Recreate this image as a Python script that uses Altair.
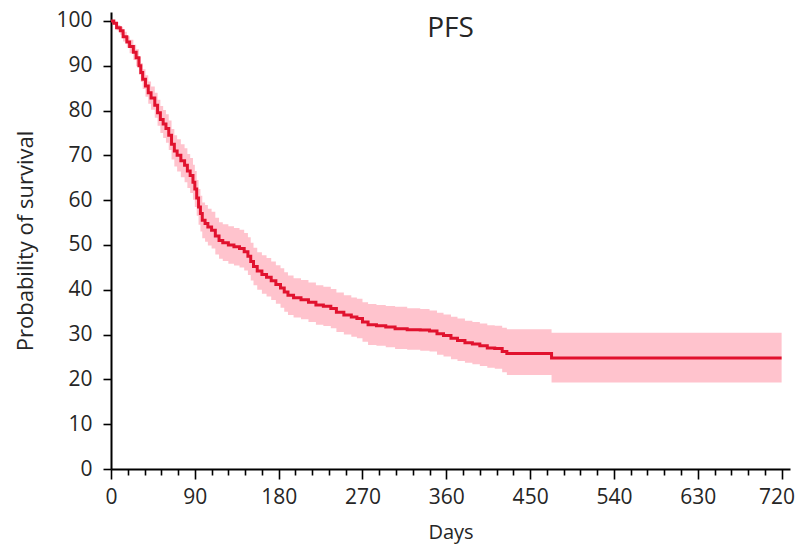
import altair as alt
import pandas as pd

# Kaplan-Meier step points
days = [0, 3, 6, 10, 13, 17, 20, 24, 27, 30, 32, 34, 37, 40, 43, 47, 50, 53, 56, 59,
        62, 65, 68, 71, 75, 79, 82, 85, 88, 90, 92, 94, 96, 98, 101, 104, 108, 112, 116, 120,
        126, 132, 138, 143, 147, 150, 153, 157, 162, 167, 172, 177, 182, 186, 190, 196, 204, 212, 220, 228,
        236, 242, 250, 258, 264, 270, 276, 285, 295, 305, 318, 332, 342, 350, 357, 365, 372, 380, 388, 396,
        404, 412, 420, 425, 473, 720]
surv = [100, 99.5, 98.5, 97.8, 96.5, 95.3, 94.3, 93.0, 91.8, 90.0, 88.5, 87.0, 85.5, 84.0, 82.8, 81.2, 79.5, 78.0, 77.0, 76.0,
        74.5, 72.5, 71.0, 70.0, 68.8, 67.8, 66.5, 65.5, 64.0, 62.5, 60.5, 58.5, 57.0, 55.5, 54.8, 54.0, 53.3, 52.0, 51.0, 50.5,
        50.0, 49.6, 49.2, 48.5, 47.5, 46.3, 45.2, 44.2, 43.4, 42.8, 42.0, 41.2, 40.4, 39.5, 38.8, 38.2, 37.8, 37.2, 36.6, 36.3,
        35.8, 35.0, 34.4, 33.9, 33.6, 32.8, 32.2, 32.0, 31.7, 31.3, 31.1, 31.0, 30.8, 30.2, 29.8, 29.2, 28.7, 28.2, 27.9, 27.5,
        27.0, 26.9, 26.2, 25.8, 24.8, 24.8]
lower = [100, 99.2, 97.9, 96.9, 95.4, 94.0, 92.8, 91.3, 89.9, 88.0, 86.4, 84.8, 83.1, 81.5, 80.2, 78.4, 76.6, 75.0, 73.9, 72.8,
         71.2, 69.1, 67.5, 66.4, 65.1, 64.0, 62.7, 61.6, 60.1, 58.5, 56.5, 54.5, 53.0, 51.5, 50.7, 49.9, 49.2, 47.9, 46.9, 46.4,
         45.8, 45.4, 45.0, 44.3, 43.3, 42.1, 41.0, 40.0, 39.1, 38.5, 37.7, 36.9, 36.0, 35.1, 34.4, 33.8, 33.4, 32.8, 32.2, 31.9,
         31.4, 30.6, 30.0, 29.5, 29.2, 28.4, 27.7, 27.5, 27.2, 26.8, 26.6, 26.4, 26.2, 25.5, 25.1, 24.5, 24.1, 23.7, 23.4, 23.0,
         22.6, 22.4, 21.6, 21.0, 19.3, 19.3]
upper = [100, 99.8, 99.1, 98.7, 97.6, 96.6, 95.8, 94.7, 93.7, 92.0, 90.6, 89.2, 87.9, 86.5, 85.4, 84.0, 82.4, 81.0, 80.1, 79.2,
         77.8, 75.9, 74.5, 73.6, 72.5, 71.6, 70.3, 69.4, 67.9, 66.5, 64.5, 62.5, 61.0, 59.5, 58.9, 58.1, 57.4, 56.1, 55.1, 54.6,
         54.2, 53.8, 53.4, 52.7, 51.7, 50.5, 49.4, 48.4, 47.7, 47.1, 46.3, 45.5, 44.8, 43.9, 43.2, 42.6, 42.2, 41.6, 41.0, 40.7,
         40.2, 39.4, 38.8, 38.3, 38.0, 37.2, 36.8, 36.6, 36.4, 36.2, 35.9, 35.7, 35.4, 34.9, 34.5, 34.0, 33.6, 33.1, 32.8, 32.5,
         32.1, 32.0, 31.5, 31.2, 30.4, 30.4]

x_ticks = list(range(0, 721, 18))
y_ticks = list(range(0, 101, 10))
title_text = ["PFS"]

df = pd.DataFrame({"day": days, "surv": surv, "lower": lower, "upper": upper})

FONT = "Open Sans"
TXT = "#262626"
W, H = 679, 457

x_scale = alt.Scale(domain=[0, 729], nice=False, zero=False)
y_scale = alt.Scale(domain=[0, 102], nice=False)

x_axis = alt.Axis(
    values=x_ticks,
    labelExpr="datum.value % 90 === 0 ? datum.label : ''",
    tickSize={"condition": {"test": "datum.value % 90 === 0", "value": 10}, "value": 6},
    labelOffset={"condition": {"test": "datum.value === 720", "value": -5}, "value": 0},
    tickColor="black", tickWidth=1.6,
    domainColor="black", domainWidth=2,
    labelFont=FONT, labelFontSize=21, labelColor=TXT, labelPadding=7,
    labelOverlap=False, labelFlush=False,
    title="Days", titleFont=FONT, titleFontSize=20, titleFontWeight="normal",
    titleColor=TXT, titlePadding=15, grid=False,
)
y_axis = alt.Axis(
    values=y_ticks,
    tickSize=8, tickColor="black", tickWidth=1.6,
    domainColor="black", domainWidth=2,
    labelFont=FONT, labelFontSize=21, labelColor=TXT, labelPadding=11,
    title="Probability of survival", titleFont=FONT, titleFontSize=22,
    titleFontWeight="normal", titleColor=TXT, titlePadding=18, grid=False,
)

base = alt.Chart(df)
band = base.mark_area(color="#FFC3CD", interpolate="step-after").encode(
    x=alt.X("day:Q", scale=x_scale, axis=x_axis),
    y=alt.Y("lower:Q", scale=y_scale, axis=y_axis),
    y2="upper:Q",
)
line = base.mark_line(color="#E1122E", strokeWidth=3, interpolate="step-after").encode(
    x=alt.X("day:Q", scale=x_scale, axis=x_axis),
    y=alt.Y("surv:Q", scale=y_scale, axis=y_axis),
)
title = alt.Chart(pd.DataFrame({"t": title_text})).mark_text(
    font=FONT, fontSize=28, color=TXT, align="center", baseline="alphabetic"
).encode(text="t:N", x=alt.value(W / 2), y=alt.value(25))

chart = alt.layer(band, line, title).properties(
    width=W, height=H,
    autosize=alt.AutoSizeParams(type="none"),
    padding={"left": 103, "top": 4, "right": 5, "bottom": 76},
).configure_view(stroke=None)

chart.save("out.html", embed_options={"renderer": "svg", "actions": False})
